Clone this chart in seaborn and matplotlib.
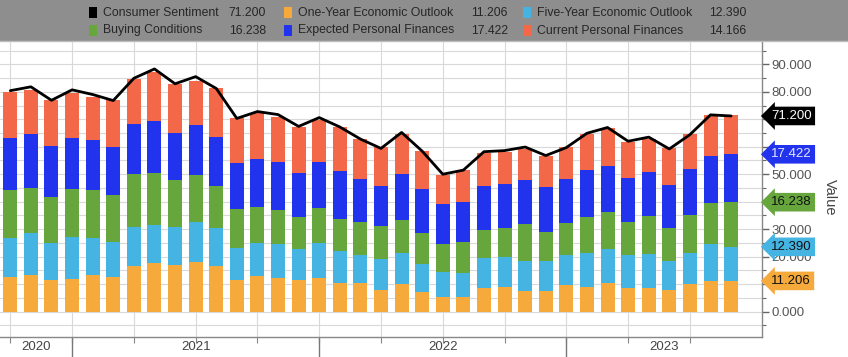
import numpy as np
import pandas as pd
import matplotlib
matplotlib.use("Agg")
import matplotlib.pyplot as plt
import matplotlib.transforms as mtransforms
from matplotlib.patches import Rectangle
from matplotlib.lines import Line2D
import seaborn as sns

# ---------------- data ----------------
months = ["2020-09", "2020-10", "2020-11", "2020-12",
          "2021-01", "2021-02", "2021-03", "2021-04", "2021-05", "2021-06",
          "2021-07", "2021-08", "2021-09", "2021-10", "2021-11", "2021-12",
          "2022-01", "2022-02", "2022-03", "2022-04", "2022-05", "2022-06",
          "2022-07", "2022-08", "2022-09", "2022-10", "2022-11", "2022-12",
          "2023-01", "2023-02", "2023-03", "2023-04", "2023-05", "2023-06",
          "2023-07", "2023-08"]
one_year = [12.5, 13.3, 11.5, 11.8, 13.3, 12.5, 16.6, 17.6, 17.0, 18.2, 16.6, 11.5,
            13.0, 12.1, 11.5, 12.1, 10.5, 10.3, 7.9, 9.9, 7.0, 5.5, 5.5, 8.5,
            9.1, 7.6, 7.6, 9.7, 9.1, 10.3, 8.8, 8.8, 7.9, 10.1, 11.3, 11.206]
five_year = [14.4, 15.4, 13.6, 15.5, 13.4, 13.0, 14.3, 13.9, 13.9, 14.5, 13.7, 11.5,
             12.1, 12.4, 11.2, 13.0, 11.7, 10.3, 11.1, 11.6, 10.3, 9.0, 8.7, 10.9,
             10.7, 10.9, 10.8, 11.1, 12.4, 12.4, 11.8, 12.2, 10.5, 11.1, 13.3, 12.390]
buying = [17.3, 16.4, 16.7, 17.5, 17.5, 16.9, 19.2, 19.0, 17.0, 17.0, 15.4, 14.2,
          13.1, 12.5, 11.8, 12.5, 11.4, 12.1, 12.2, 11.8, 11.2, 10.3, 11.3, 10.3,
          10.5, 13.4, 10.7, 11.3, 13.0, 13.7, 12.1, 13.8, 11.9, 14.0, 15.0, 16.238]
expected = [19.1, 19.5, 18.4, 18.5, 18.2, 17.6, 18.1, 19.0, 17.2, 18.2, 17.9, 17.0,
            17.2, 17.3, 15.8, 16.7, 17.7, 15.5, 14.5, 16.8, 16.0, 14.4, 14.5, 16.1,
            16.1, 16.0, 16.1, 16.1, 17.0, 16.6, 15.8, 16.1, 15.8, 16.6, 17.0, 17.422]
current = [16.7, 16.2, 16.8, 16.1, 15.8, 17.0, 16.3, 17.8, 17.7, 16.1, 17.6, 16.1,
           16.7, 16.6, 17.0, 15.6, 16.0, 14.5, 14.1, 14.5, 14.0, 10.5, 11.5, 12.0,
           11.8, 11.1, 11.4, 11.6, 13.1, 14.0, 13.3, 11.8, 13.3, 12.8, 14.9, 14.166]
sentiment = [80.4, 81.8, 76.9, 80.7, 79.0, 76.8, 84.9, 88.3, 82.9, 85.5, 81.2, 70.3,
             72.8, 71.7, 67.4, 70.6, 67.2, 62.8, 59.4, 65.2, 58.4, 50.0, 51.5, 58.2,
             58.6, 59.9, 56.8, 59.7, 64.9, 67.0, 62.0, 63.5, 59.2, 64.4, 71.6, 71.2]
years = ["2020", "2021", "2022", "2023"]
yticks = [0, 10, 20, 30, 40, 50, 60, 70, 80, 90]
# tick labels covered by the value tags in the reference
hidden_ticks = [10, 40, 60, 70]

# ---------------- styles ----------------
C_ORANGE = "#F7AA3C"
C_LBLUE = "#45B4E3"
C_GREEN = "#66A63C"
C_BLUE = "#2233EE"
C_RED = "#F26849"
C_BLACK = "#000000"

sns.set_theme(style="white")
plt.rcParams["font.family"] = ["Liberation Sans", "DejaVu Sans"]

W, H = 848, 357
fig = plt.figure(figsize=(W / 100, H / 100), dpi=100)
fig.patch.set_facecolor("white")

ax_left, ax_right = 0.0, 762 / W
ax_top, ax_bot = 1 - 42 / H, 1 - 337 / H
ax = fig.add_axes([ax_left, ax_bot, ax_right - ax_left, ax_top - ax_bot])
ax.set_facecolor("white")

df = pd.DataFrame({
    "month": months,
    "one": one_year, "five": five_year, "buy": buying,
    "exp": expected, "cur": current, "sent": sentiment,
})
df["c1"] = df["one"]
df["c2"] = df["c1"] + df["five"]
df["c3"] = df["c2"] + df["buy"]
df["c4"] = df["c3"] + df["exp"]
df["c5"] = df["c4"] + df["cur"]
df["pos"] = np.arange(len(df))

# gridlines behind
for v in np.arange(-5, 100, 5):
    ax.axhline(v, color="#d9d9d9", lw=0.8, zorder=0)
for q in range(0, len(months), 3):
    ax.axvline(q, color="#d9d9d9", lw=0.8, zorder=0)

for col, c in [("c5", C_RED), ("c4", C_BLUE), ("c3", C_GREEN), ("c2", C_LBLUE), ("c1", C_ORANGE)]:
    sns.barplot(data=df, x="month", y=col, color=c, saturation=1, width=0.68,
                errorbar=None, ax=ax, zorder=2, linewidth=0)

sns.lineplot(data=df, x="pos", y="sent", color=C_BLACK, lw=2.0, ax=ax, zorder=4)

ax.set_xlim(-0.5, 36.5)
ax.set_ylim(-9.2, 98.1)
ax.set_xlabel("")
ax.set_ylabel("")

# y axis on the right
ax.yaxis.tick_right()
ax.set_yticks(yticks)
ax.set_yticklabels(["" if v in hidden_ticks else f"{v:.3f}" for v in yticks])
ax.set_yticks(np.arange(-5, 100, 10), minor=True)
ax.tick_params(axis="y", which="major", direction="out", length=5, width=1,
               color="#666666", labelsize=9.5, labelcolor="#555555", pad=2, right=True, left=False)
ax.tick_params(axis="y", which="minor", direction="out", length=3, width=0.8,
               color="#666666", right=True, left=False)

# x axis
ax.set_xticks(range(0, len(months), 3))
ax.set_xticklabels([])
ax.tick_params(axis="x", which="major", direction="out", length=4, width=0.8,
               color="#888888", bottom=True)

for side in ["top", "left"]:
    ax.spines[side].set_visible(False)
for side in ["right", "bottom"]:
    ax.spines[side].set_visible(True)
    ax.spines[side].set_color("#888888")
    ax.spines[side].set_linewidth(1.0)

trans_xa = mtransforms.blended_transform_factory(ax.transData, ax.transAxes)
# year separators and labels
sep_pos = [3, 15, 27]
for s in sep_pos:
    ax.add_line(Line2D([s, s], [0, -0.075], transform=trans_xa, color="#777777",
                       lw=1.0, clip_on=False))
bounds = [-0.5] + sep_pos + [36.5]
for i, yr in enumerate(years):
    ax.text((bounds[i] + bounds[i + 1]) / 2, -0.035, yr, transform=trans_xa,
            ha="center", va="center", fontsize=9.5, color="#444444")

# right-side value tags
trans_ay = mtransforms.blended_transform_factory(ax.transAxes, ax.transData)
last = df.iloc[-1]
tags = [
    (last["sent"], f"{last['sent']:.3f}", C_BLACK, "white"),
    (last["c4"], f"{last['exp']:.3f}", C_BLUE, "#e6e6ff"),
    (last["c3"], f"{last['buy']:.3f}", C_GREEN, "#111111"),
    (last["c2"], f"{last['five']:.3f}", C_LBLUE, "#111111"),
    (last["c1"], f"{last['one']:.3f}", C_ORANGE, "#111111"),
]
for yv, txt, fc, tc in tags:
    ax.text(1.012, yv, txt, transform=trans_ay, ha="left", va="center",
            fontsize=9.5, color=tc, zorder=10, clip_on=False,
            bbox=dict(boxstyle="larrow,pad=0.25", fc=fc, ec="none"))

fig.text(0.979, 1 - 197 / H, "Value", rotation=270, ha="center", va="center",
         fontsize=10.5, color="#444444")

# top legend band
fig.add_artist(Rectangle((0, 1 - 41 / H), 1, 41 / H, transform=fig.transFigure,
                         fc="#8e8e8e", ec="none", zorder=0))
fig.add_artist(Line2D([0, 1], [1 - 41 / H, 1 - 41 / H], transform=fig.transFigure,
                      color="#bdbdbd", lw=1.0))

legend_items = [
    ("Consumer Sentiment", f"{last['sent']:.3f}", C_BLACK, 0),
    ("One-Year Economic Outlook", f"{last['one']:.3f}", C_ORANGE, 1),
    ("Five-Year Economic Outlook", f"{last['five']:.3f}", C_LBLUE, 2),
    ("Buying Conditions", f"{last['buy']:.3f}", C_GREEN, 3),
    ("Expected Personal Finances", f"{last['exp']:.3f}", C_BLUE, 4),
    ("Current Personal Finances", f"{last['cur']:.3f}", C_RED, 5),
]
col_marker = [93, 288, 527]
col_value_right = [266, 508, 746]
row_y = [12.5, 30.5]
for name, val, c, k in legend_items:
    r, cidx = divmod(k, 3)
    yy = 1 - row_y[r] / H
    fig.add_artist(Rectangle(((col_marker[cidx] - 4) / W, yy - 5 / H), 8 / W, 10 / H,
                             transform=fig.transFigure, fc=c, ec="none"))
    fig.text((col_marker[cidx] + 10) / W, yy, name, ha="left", va="center",
             fontsize=8.8, color="#262626")
    fig.text(col_value_right[cidx] / W, yy, val, ha="right", va="center",
             fontsize=8.8, color="#262626")

fig.savefig("out.png", dpi=100, facecolor="white")
